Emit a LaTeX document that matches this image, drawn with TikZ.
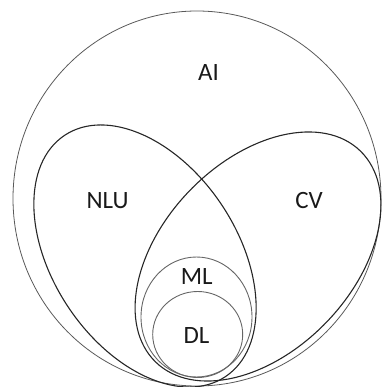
\documentclass[tikz,border=0pt]{standalone}
\usepackage{fontspec}
\setmainfont{Carlito}
\begin{document}
\begin{tikzpicture}[x=1bp,y=1bp,
  ring/.style={draw=black!65, line width=0.8bp},
  lobe/.style={draw=black!85, line width=1.1bp},
  inner/.style={draw=black!60, line width=0.9bp},
  tag/.style={font=\fontsize{25}{25}\selectfont, inner sep=0pt, text=black!90}]
  \useasboundingbox (0,0) rectangle (382,387);
  % outer field
  \draw[ring] (197,188.5) ellipse [x radius=184, y radius=187.5];
  % two overlapping tilted sub-fields
  \draw[lobe] (145,131) ellipse [x radius=145, y radius=92.2, rotate=-56.3];
  \draw[lobe] (258,130.5) ellipse [x radius=147, y radius=94.9, rotate=45.9];
  % nested fields in the overlap
  \draw[inner] (196.5,70) ellipse [x radius=55.5, y radius=60];
  \draw[inner] (197.7,52.5) ellipse [x radius=45, y radius=43];
  % labels
  \node[tag] (ai)  at (208.5,314.5) {AI};
  \node[tag] (nlu) at (107.5,186.5) {NLU};
  \node[tag] (cv)  at (309,186) {CV};
  \node[tag] (ml)  at (196.7,110) {ML};
  \node[tag] (dl)  at (196.5,51.5) {DL};
\end{tikzpicture}
\end{document}
